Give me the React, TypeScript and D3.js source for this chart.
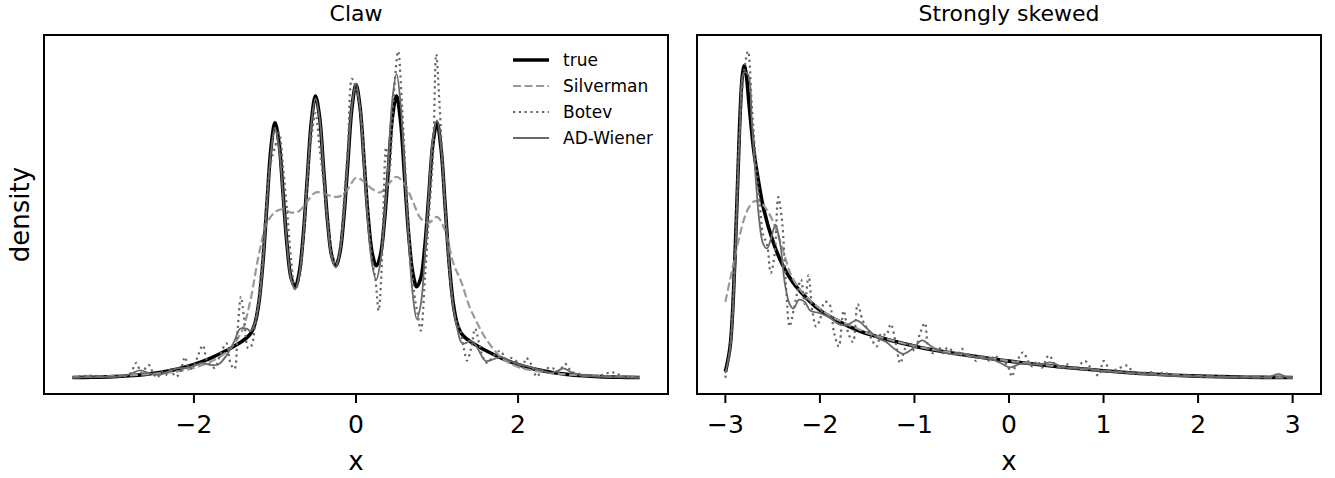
import { useEffect, useRef } from "react";
import * as d3 from "d3";

type Pt = [number, number];

const W = 1335;
const H = 478;

// ---- legend / series names
const seriesNames = ["true", "Silverman", "Botev", "AD-Wiener"];
const panelTitles = ["Claw", "Strongly skewed"];
const clawTicks = [-2, 0, 2];
const skewTicks = [-3, -2, -1, 0, 1, 2, 3];

// ---- Claw panel (x, density)
const clawTrue: Pt[] = [
  [-3.5, 0.0004], [-3.25, 0.001], [-3, 0.0022], [-2.8, 0.004], [-2.6, 0.0068], [-2.4, 0.0112],
  [-2.2, 0.0177], [-2, 0.027], [-1.8, 0.0395], [-1.6, 0.0555], [-1.5, 0.0648], [-1.4, 0.075],
  [-1.35, 0.0811], [-1.3, 0.0901], [-1.25, 0.1088], [-1.2, 0.1511], [-1.15, 0.2325], [-1.1, 0.3509],
  [-1.05, 0.467], [-1, 0.5199], [-0.95, 0.4791], [-0.9, 0.3751], [-0.85, 0.2694], [-0.8, 0.2032],
  [-0.75, 0.1856], [-0.7, 0.2145], [-0.65, 0.2919], [-0.6, 0.4087], [-0.55, 0.5236], [-0.5, 0.5749],
  [-0.45, 0.5324], [-0.4, 0.4262], [-0.35, 0.318], [-0.3, 0.2491], [-0.25, 0.2283], [-0.2, 0.2539],
  [-0.15, 0.3276], [-0.1, 0.4406], [-0.05, 0.5513], [0, 0.598], [0.05, 0.5513], [0.1, 0.4406],
  [0.15, 0.3276], [0.2, 0.2539], [0.25, 0.2283], [0.3, 0.2491], [0.35, 0.318], [0.4, 0.4262],
  [0.45, 0.5324], [0.5, 0.5749], [0.55, 0.5236], [0.6, 0.4087], [0.65, 0.2919], [0.7, 0.2145],
  [0.75, 0.1856], [0.8, 0.2032], [0.85, 0.2694], [0.9, 0.3751], [0.95, 0.4791], [1, 0.5199],
  [1.05, 0.467], [1.1, 0.3509], [1.15, 0.2325], [1.2, 0.1511], [1.25, 0.1088], [1.3, 0.0901],
  [1.35, 0.0811], [1.4, 0.075], [1.5, 0.0648], [1.6, 0.0555], [1.8, 0.0395], [2, 0.027],
  [2.2, 0.0177], [2.4, 0.0112], [2.6, 0.0068], [2.8, 0.004], [3, 0.0022], [3.25, 0.001], [3.5, 0.0004],
];

const clawSilverman: Pt[] = [
  [-3.5, 0.001], [-3, 0.003], [-2.5, 0.008], [-2.2, 0.013], [-2, 0.02], [-1.8, 0.032], [-1.6, 0.052],
  [-1.5, 0.07], [-1.4, 0.098], [-1.3, 0.16], [-1.2, 0.25], [-1.1, 0.315], [-1, 0.338], [-0.9, 0.344],
  [-0.8, 0.337], [-0.7, 0.34], [-0.6, 0.36], [-0.5, 0.378], [-0.4, 0.376], [-0.3, 0.37], [-0.2, 0.37],
  [-0.1, 0.385], [0, 0.408], [0.1, 0.4], [0.2, 0.385], [0.3, 0.378], [0.4, 0.395], [0.5, 0.41],
  [0.6, 0.395], [0.7, 0.36], [0.8, 0.325], [0.9, 0.316], [1, 0.328], [1.1, 0.3], [1.2, 0.234],
  [1.3, 0.195], [1.4, 0.145], [1.5, 0.11], [1.6, 0.08], [1.8, 0.04], [2, 0.022], [2.2, 0.014],
  [2.5, 0.008], [3, 0.003], [3.5, 0.001],
];

const clawBotev: Pt[] = [
  [-3.5, 0.0004], [-3.3, 0.004], [-3, 0.002], [-2.8, 0.006], [-2.71, 0.03], [-2.65, 0.01], [-2.56, 0.026],
  [-2.5, 0.008], [-2.45, 0.0], [-2.4, 0.012], [-2.35, 0.005], [-2.3, 0.016], [-2.22, 0.002], [-2.17, 0.012],
  [-2.11, 0.042], [-2.06, 0.018], [-2, 0.025], [-1.95, 0.045], [-1.89, 0.066], [-1.84, 0.035], [-1.79, 0.025],
  [-1.74, 0.02], [-1.68, 0.045], [-1.6, 0.07], [-1.55, 0.03], [-1.5, 0.018], [-1.46, 0.1], [-1.42, 0.165],
  [-1.38, 0.12], [-1.33, 0.06], [-1.29, 0.065], [-1.25, 0.1], [-1.2, 0.17], [-1.15, 0.26], [-1.1, 0.37],
  [-1.05, 0.44], [-1, 0.47], [-0.95, 0.5], [-0.9, 0.43], [-0.85, 0.34], [-0.8, 0.24], [-0.75, 0.18],
  [-0.7, 0.2], [-0.65, 0.28], [-0.6, 0.4], [-0.55, 0.49], [-0.5, 0.54], [-0.45, 0.47], [-0.4, 0.4],
  [-0.35, 0.32], [-0.3, 0.26], [-0.25, 0.23], [-0.2, 0.26], [-0.15, 0.36], [-0.1, 0.47], [-0.05, 0.61],
  [0, 0.59], [0.05, 0.55], [0.1, 0.46], [0.15, 0.33], [0.2, 0.24], [0.24, 0.2], [0.28, 0.137],
  [0.31, 0.2], [0.34, 0.35], [0.37, 0.47], [0.41, 0.42], [0.46, 0.56], [0.52, 0.666], [0.57, 0.55],
  [0.62, 0.39], [0.67, 0.26], [0.72, 0.17], [0.76, 0.13], [0.8, 0.096], [0.85, 0.2], [0.9, 0.33],
  [0.95, 0.45], [0.99, 0.66], [1.03, 0.56], [1.08, 0.4], [1.13, 0.27], [1.18, 0.17], [1.23, 0.12],
  [1.28, 0.1], [1.33, 0.06], [1.37, 0.035], [1.42, 0.06], [1.47, 0.1], [1.52, 0.07], [1.57, 0.04],
  [1.62, 0.03], [1.7, 0.045], [1.78, 0.055], [1.85, 0.038], [1.92, 0.04], [2, 0.03], [2.05, 0.018],
  [2.1, 0.04], [2.17, 0.025], [2.23, 0.002], [2.3, 0.015], [2.42, 0.02], [2.5, 0.012], [2.58, 0.028],
  [2.66, 0.012], [2.75, 0.008], [2.85, 0.005], [3, 0.004], [3.16, 0.011], [3.3, 0.003], [3.5, 0.0004],
];

const clawWiener: Pt[] = [
  [-3.5, 0.0004], [-3, 0.002], [-2.85, 0.004], [-2.75, 0.01], [-2.67, 0.015], [-2.58, 0.011], [-2.5, 0.007],
  [-2.42, 0.006], [-2.32, 0.012], [-2.21, 0.019], [-2.1, 0.02], [-2, 0.024], [-1.9, 0.03], [-1.8, 0.026],
  [-1.7, 0.027], [-1.6, 0.045], [-1.5, 0.075], [-1.43, 0.1], [-1.35, 0.1], [-1.3, 0.095], [-1.25, 0.11],
  [-1.2, 0.15], [-1.15, 0.23], [-1.1, 0.35], [-1.05, 0.46], [-1, 0.51], [-0.95, 0.47], [-0.9, 0.37],
  [-0.85, 0.27], [-0.8, 0.2], [-0.75, 0.18], [-0.7, 0.21], [-0.65, 0.29], [-0.6, 0.41], [-0.55, 0.52],
  [-0.5, 0.57], [-0.45, 0.53], [-0.4, 0.425], [-0.35, 0.315], [-0.3, 0.245], [-0.25, 0.225], [-0.2, 0.255],
  [-0.15, 0.33], [-0.1, 0.445], [-0.05, 0.555], [0, 0.6], [0.05, 0.55], [0.1, 0.43], [0.15, 0.31],
  [0.2, 0.23], [0.25, 0.2], [0.3, 0.235], [0.35, 0.32], [0.4, 0.44], [0.45, 0.57], [0.5, 0.62],
  [0.55, 0.56], [0.6, 0.42], [0.65, 0.28], [0.7, 0.17], [0.75, 0.12], [0.8, 0.15], [0.85, 0.25],
  [0.9, 0.38], [0.95, 0.49], [1, 0.525], [1.05, 0.47], [1.1, 0.35], [1.15, 0.23], [1.2, 0.145],
  [1.25, 0.1], [1.3, 0.072], [1.35, 0.07], [1.4, 0.075], [1.45, 0.072], [1.5, 0.06], [1.6, 0.034],
  [1.7, 0.038], [1.8, 0.042], [1.9, 0.034], [2, 0.028], [2.1, 0.024], [2.2, 0.019], [2.3, 0.014],
  [2.4, 0.01], [2.5, 0.015], [2.56, 0.019], [2.65, 0.012], [2.75, 0.006], [2.9, 0.003], [3.2, 0.001],
  [3.5, 0.0004],
];

// ---- Strongly skewed panel
const skewTrue: Pt[] = [
  [-3, 0.0273], [-2.95, 0.139], [-2.9, 0.5216], [-2.85, 1.1216], [-2.82, 1.356], [-2.8, 1.3987],
  [-2.78, 1.3621], [-2.75, 1.2291], [-2.7, 1.0207], [-2.65, 0.8819], [-2.6, 0.7666], [-2.5, 0.6155],
  [-2.4, 0.51], [-2.3, 0.4365], [-2.2, 0.3836], [-2, 0.3028], [-1.8, 0.2528], [-1.6, 0.2128],
  [-1.4, 0.1844], [-1.2, 0.162], [-1, 0.1415], [-0.8, 0.1245], [-0.5, 0.1041], [-0.2, 0.0858],
  [0, 0.0743], [0.5, 0.0499], [1, 0.0311], [1.5, 0.0162], [2, 0.0068], [2.5, 0.0022], [3, 0.0006],
];

const skewSilverman: Pt[] = [
  [-3, 0.34], [-2.95, 0.44], [-2.9, 0.54], [-2.85, 0.635], [-2.8, 0.715], [-2.75, 0.765], [-2.7, 0.79],
  [-2.65, 0.79], [-2.6, 0.775], [-2.55, 0.745], [-2.5, 0.705], [-2.45, 0.65], [-2.4, 0.585], [-2.35, 0.515],
  [-2.3, 0.455], [-2.2, 0.39], [-2.1, 0.345], [-2, 0.31], [-1.9, 0.28], [-1.8, 0.258], [-1.7, 0.238],
  [-1.6, 0.22], [-1.5, 0.2], [-1.4, 0.187], [-1.2, 0.163], [-1, 0.142], [-0.8, 0.126], [-0.6, 0.112],
  [-0.4, 0.097], [-0.2, 0.087], [0, 0.075], [0.25, 0.063], [0.5, 0.051], [0.75, 0.04], [1, 0.031],
  [1.25, 0.023], [1.5, 0.016], [2, 0.007], [2.5, 0.0025], [3, 0.0008],
];

const skewBotev: Pt[] = [
  [-3, 0.0], [-2.95, 0.13], [-2.9, 0.52], [-2.85, 1.1], [-2.8, 1.38], [-2.76, 1.464], [-2.72, 1.22],
  [-2.68, 0.98], [-2.64, 0.8], [-2.6, 0.64], [-2.56, 0.6], [-2.52, 0.47], [-2.48, 0.55], [-2.44, 0.81],
  [-2.4, 0.7], [-2.36, 0.42], [-2.32, 0.23], [-2.28, 0.3], [-2.24, 0.38], [-2.2, 0.44], [-2.16, 0.33],
  [-2.12, 0.46], [-2.08, 0.3], [-2.04, 0.23], [-2, 0.26], [-1.95, 0.34], [-1.9, 0.33], [-1.85, 0.2],
  [-1.8, 0.14], [-1.75, 0.3], [-1.7, 0.2], [-1.65, 0.16], [-1.6, 0.33], [-1.55, 0.26], [-1.5, 0.22],
  [-1.45, 0.17], [-1.4, 0.14], [-1.35, 0.2], [-1.3, 0.19], [-1.25, 0.24], [-1.2, 0.16], [-1.15, 0.065],
  [-1.1, 0.13], [-1.05, 0.16], [-1, 0.12], [-0.94, 0.2], [-0.89, 0.245], [-0.85, 0.13], [-0.8, 0.11],
  [-0.75, 0.14], [-0.7, 0.11], [-0.65, 0.135], [-0.6, 0.12], [-0.55, 0.1], [-0.5, 0.13], [-0.45, 0.095],
  [-0.4, 0.11], [-0.35, 0.075], [-0.3, 0.1], [-0.25, 0.09], [-0.2, 0.075], [-0.15, 0.1], [-0.1, 0.08],
  [-0.05, 0.07], [0, 0.04], [0.03, 0.005], [0.08, 0.07], [0.15, 0.114], [0.2, 0.075], [0.25, 0.05],
  [0.3, 0.075], [0.35, 0.045], [0.42, 0.1], [0.5, 0.05], [0.55, 0.04], [0.62, 0.06], [0.7, 0.04],
  [0.8, 0.075], [0.88, 0.035], [0.95, 0.01], [1.0, 0.075], [1.08, 0.03], [1.15, 0.04], [1.25, 0.054],
  [1.33, 0.015], [1.42, 0.02], [1.5, 0.025], [1.57, 0.012], [1.64, 0.024], [1.72, 0.008], [1.85, 0.01],
  [2, 0.006], [2.2, 0.004], [2.5, 0.002], [2.8, 0.001], [3, 0.0005],
];

const skewWiener: Pt[] = [
  [-3, 0.02], [-2.95, 0.13], [-2.9, 0.5], [-2.85, 1.08], [-2.8, 1.37], [-2.76, 1.36], [-2.72, 1.15],
  [-2.68, 0.9], [-2.64, 0.7], [-2.6, 0.6], [-2.56, 0.58], [-2.52, 0.62], [-2.47, 0.685], [-2.42, 0.6],
  [-2.37, 0.42], [-2.32, 0.33], [-2.28, 0.31], [-2.22, 0.35], [-2.16, 0.34], [-2.1, 0.3], [-2, 0.29],
  [-1.9, 0.27], [-1.8, 0.24], [-1.72, 0.235], [-1.61, 0.257], [-1.5, 0.22], [-1.4, 0.18], [-1.3, 0.16],
  [-1.2, 0.125], [-1.12, 0.107], [-1.02, 0.13], [-0.92, 0.167], [-0.82, 0.14], [-0.7, 0.115],
  [-0.6, 0.105], [-0.5, 0.11], [-0.4, 0.098], [-0.3, 0.088], [-0.2, 0.085], [-0.1, 0.068], [0.01, 0.046],
  [0.12, 0.062], [0.25, 0.06], [0.35, 0.06], [0.44, 0.069], [0.55, 0.05], [0.7, 0.042], [0.85, 0.04],
  [1, 0.03], [1.2, 0.024], [1.4, 0.018], [1.6, 0.012], [1.8, 0.008], [2, 0.006], [2.3, 0.003],
  [2.6, 0.002], [2.75, 0.003], [2.85, 0.017], [2.93, 0.004], [3, 0.001],
];

// line styles, in the order of seriesNames
const styles = [
  { color: "#000000", width: 3.6, dash: null },
  { color: "#999999", width: 2.2, dash: "8,3.5" },
  { color: "#666666", width: 2.2, dash: "2.2,3.6" },
  { color: "#6a6a6a", width: 1.8, dash: null },
];

const TOP = 35;
const BOTTOM = 394;
const FONT = "DejaVu Sans";

export default function App() {
  const svgRef = useRef<SVGSVGElement>(null);

  useEffect(() => {
    draw();
  }, []);

  function draw() {
    const svg = d3.select(svgRef.current);
    svg.selectAll("*").remove();
    svg.append("rect").attr("width", W).attr("height", H).attr("fill", "white");

    const panels = [
      { left: 44, right: 668, title: panelTitles[0], ticks: clawTicks, data: [clawTrue, clawSilverman, clawBotev, clawWiener] },
      { left: 697, right: 1321, title: panelTitles[1], ticks: skewTicks, data: [skewTrue, skewSilverman, skewBotev, skewWiener] },
    ];

    panels.forEach((p, pi) => {
      const all = p.data.flat();
      const [xmin, xmax] = d3.extent(all, (d) => d[0]) as [number, number];
      const [ymin, ymax] = d3.extent(all, (d) => d[1]) as [number, number];
      const xpad = (xmax - xmin) * 0.05;
      const ypad = (ymax - ymin) * 0.05;
      const x = d3.scaleLinear().domain([xmin - xpad, xmax + xpad]).range([p.left, p.right]);
      const y = d3.scaleLinear().domain([ymin - ypad, ymax + ypad]).range([BOTTOM, TOP]);

      const g = svg.append("g");

      const line = d3
        .line<Pt>()
        .x((d) => x(d[0]))
        .y((d) => y(d[1]))
        .curve(d3.curveCatmullRom.alpha(0.5));

      p.data.forEach((series, i) => {
        const st = styles[i];
        g.append("path")
          .attr("d", line(series))
          .attr("fill", "none")
          .attr("stroke", st.color)
          .attr("stroke-width", st.width)
          .attr("stroke-dasharray", st.dash)
          .attr("stroke-linejoin", "round");
      });

      // frame
      g.append("rect")
        .attr("x", p.left)
        .attr("y", TOP)
        .attr("width", p.right - p.left)
        .attr("height", BOTTOM - TOP)
        .attr("fill", "none")
        .attr("stroke", "black")
        .attr("stroke-width", 2);

      // x ticks
      const tk = g.selectAll("g.tick").data(p.ticks).join("g").attr("transform", (d) => `translate(${x(d)},0)`);
      tk.append("line").attr("y1", BOTTOM).attr("y2", BOTTOM + 9).attr("stroke", "black").attr("stroke-width", 2);
      tk.append("text")
        .attr("y", 433)
        .attr("text-anchor", "middle")
        .attr("font-family", FONT)
        .attr("font-size", 25)
        .text((d) => (d < 0 ? "\u2212" + Math.abs(d) : String(d)));

      const cx = (p.left + p.right) / 2;
      g.append("text")
        .attr("x", cx)
        .attr("y", 21)
        .attr("text-anchor", "middle")
        .attr("font-family", FONT)
        .attr("font-size", 22)
        .text(p.title);
      g.append("text")
        .attr("x", cx)
        .attr("y", 470)
        .attr("text-anchor", "middle")
        .attr("font-family", FONT)
        .attr("font-size", 26)
        .text("x");

      if (pi === 0) {
        svg.append("text")
          .attr("transform", `translate(29,${(TOP + BOTTOM) / 2}) rotate(-90)`)
          .attr("text-anchor", "middle")
          .attr("font-family", FONT)
          .attr("font-size", 26)
          .text("density");

        // legend
        const lg = svg.append("g");
        seriesNames.forEach((name, i) => {
          const st = styles[i];
          const ly = 60 + i * 26;
          lg.append("line")
            .attr("x1", 513)
            .attr("x2", 549)
            .attr("y1", ly)
            .attr("y2", ly)
            .attr("stroke", st.color)
            .attr("stroke-width", st.width)
            .attr("stroke-dasharray", st.dash);
          lg.append("text")
            .attr("x", 563)
            .attr("y", ly)
            .attr("dy", "0.35em")
            .attr("font-family", FONT)
            .attr("font-size", 17)
            .text(name);
        });
      }
    });
  }

  return (
    <svg
      ref={svgRef}
      width={W}
      height={H}
      style={{ position: "absolute", left: 0, top: 0, display: "block" }}
    />
  );
}
